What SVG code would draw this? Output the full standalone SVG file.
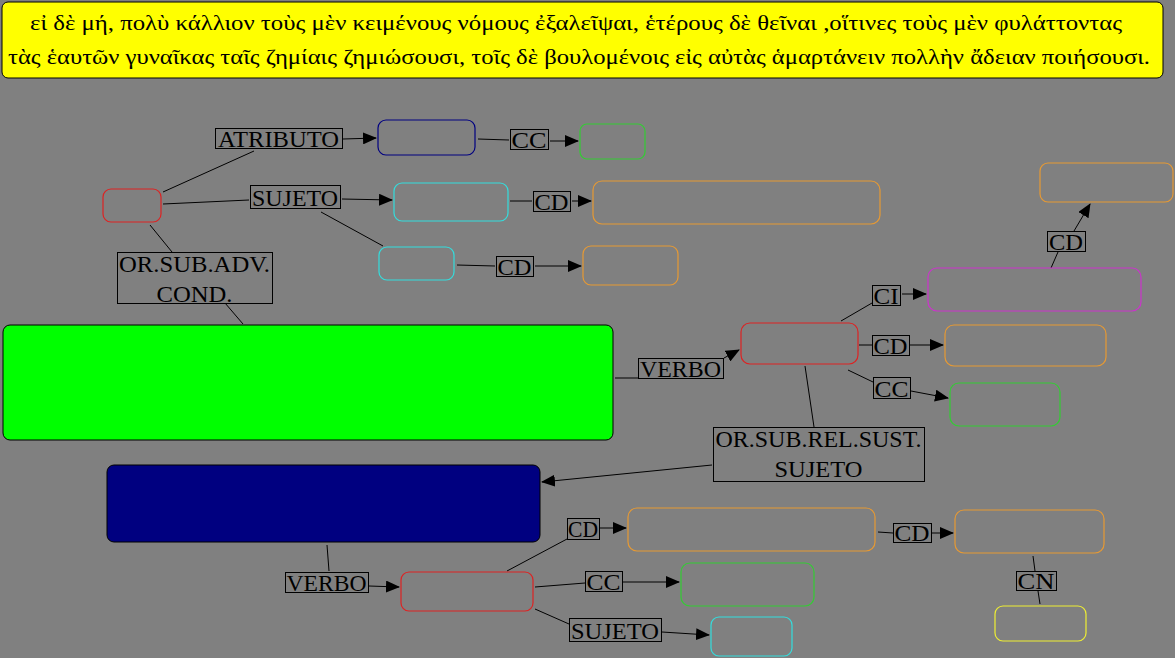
<svg xmlns="http://www.w3.org/2000/svg" width="1175" height="658" viewBox="0 0 1175 658">
<style>
.n{fill:none;stroke-width:1.2}
.lb{fill:none;stroke:#000;stroke-width:1;shape-rendering:crispEdges}
.t{font-family:"Liberation Serif","DejaVu Serif",serif;font-size:23px;fill:#000;text-anchor:middle}
.g{font-family:"Liberation Serif","DejaVu Serif",serif;font-size:22px;fill:#000;text-anchor:middle}
.c{stroke:#000;stroke-width:1;fill:none}
</style>
<defs>
<marker id="ah" markerUnits="userSpaceOnUse" markerWidth="14" markerHeight="12" refX="13" refY="6" orient="auto">
<path d="M0,0 L14,6 L0,12 Z" fill="#000"/>
</marker>
</defs>
<rect x="0" y="0" width="1175" height="658" fill="#808080"/>
<g id="title">
<rect x="2" y="2" width="1161" height="76" rx="6" fill="#ffff00" stroke="#000" stroke-width="1"/>
<text class="g" x="576" y="30" textLength="1092" lengthAdjust="spacingAndGlyphs">εἰ δὲ μή, πολὺ κάλλιον  τοὺς μὲν κειμένους νόμους ἐξαλεῖψαι, ἑτέρους δὲ θεῖναι ,οἵτινες τοὺς μὲν φυλάττοντας</text>
<text class="g" x="579" y="64" textLength="1142" lengthAdjust="spacingAndGlyphs">τὰς ἑαυτῶν γυναῖκας ταῖς ζημίαις ζημιώσουσι, τοῖς δὲ βουλομένοις εἰς αὐτὰς ἁμαρτάνειν πολλὴν ἄδειαν ποιήσουσι.</text>
</g>
<g id="connectors">
<line class="c" x1="163" y1="192" x2="254" y2="151"/>
<line class="c" x1="343" y1="139" x2="376" y2="138" marker-end="url(#ah)"/>
<line class="c" x1="163" y1="204" x2="249" y2="200"/>
<line class="c" x1="342" y1="199" x2="392" y2="200" marker-end="url(#ah)"/>
<line class="c" x1="321" y1="212" x2="383" y2="246"/>
<line class="c" x1="150" y1="225" x2="172" y2="252"/>
<line class="c" x1="225" y1="303" x2="243" y2="324"/>
<line class="c" x1="478" y1="139" x2="509" y2="140"/>
<line class="c" x1="550" y1="141" x2="578" y2="141" marker-end="url(#ah)"/>
<line class="c" x1="510" y1="201" x2="532" y2="201"/>
<line class="c" x1="572" y1="201" x2="591" y2="201" marker-end="url(#ah)"/>
<line class="c" x1="457" y1="265" x2="495" y2="266"/>
<line class="c" x1="535" y1="266" x2="581" y2="266" marker-end="url(#ah)"/>
<line class="c" x1="615" y1="378" x2="638" y2="378"/>
<line class="c" x1="724" y1="358" x2="739" y2="350" marker-end="url(#ah)"/>
<line class="c" x1="841" y1="321" x2="872" y2="303"/>
<line class="c" x1="902" y1="294" x2="926" y2="294" marker-end="url(#ah)"/>
<line class="c" x1="859" y1="345" x2="872" y2="345"/>
<line class="c" x1="910" y1="345" x2="943" y2="345" marker-end="url(#ah)"/>
<line class="c" x1="848" y1="370" x2="873" y2="382"/>
<line class="c" x1="911" y1="391" x2="948" y2="398" marker-end="url(#ah)"/>
<line class="c" x1="805" y1="366" x2="814" y2="427"/>
<line class="c" x1="712" y1="465" x2="542" y2="482" marker-end="url(#ah)"/>
<line class="c" x1="1051" y1="268" x2="1058" y2="252"/>
<line class="c" x1="1074" y1="231" x2="1090" y2="204" marker-end="url(#ah)"/>
<line class="c" x1="327" y1="545" x2="329" y2="571"/>
<line class="c" x1="369" y1="586" x2="399" y2="587" marker-end="url(#ah)"/>
<line class="c" x1="507" y1="571" x2="567" y2="539"/>
<line class="c" x1="600" y1="528" x2="626" y2="528" marker-end="url(#ah)"/>
<line class="c" x1="878" y1="532" x2="893" y2="533"/>
<line class="c" x1="932" y1="533" x2="953" y2="533" marker-end="url(#ah)"/>
<line class="c" x1="1033" y1="556" x2="1035" y2="571"/>
<line class="c" x1="1038" y1="591" x2="1040" y2="604"/>
<line class="c" x1="535" y1="587" x2="585" y2="583"/>
<line class="c" x1="622" y1="582" x2="679" y2="582" marker-end="url(#ah)"/>
<line class="c" x1="535" y1="609" x2="569" y2="624"/>
<line class="c" x1="662" y1="632" x2="709" y2="635" marker-end="url(#ah)"/>
</g>
<g id="node-red1"><rect class="n" x="103" y="189" width="58" height="33" rx="8" stroke="#dd2222"/></g>
<g id="node-navy1"><rect class="n" x="378" y="120" width="97" height="35" rx="8" stroke="#000080"/></g>
<g id="node-green1"><rect class="n" x="580" y="124" width="65" height="35" rx="7" stroke="#33cc33"/></g>
<g id="node-cyan1"><rect class="n" x="394" y="183" width="114" height="38" rx="8" stroke="#33dddd"/></g>
<g id="node-orange1"><rect class="n" x="593" y="181" width="287" height="43" rx="9" stroke="#e69933"/></g>
<g id="node-cyan2"><rect class="n" x="379" y="247" width="75" height="33" rx="8" stroke="#33dddd"/></g>
<g id="node-orange2"><rect class="n" x="583" y="246" width="95" height="39" rx="8" stroke="#e69933"/></g>
<g id="node-orange-tr"><rect class="n" x="1040" y="163" width="133" height="39" rx="8" stroke="#e69933"/></g>
<g id="node-magenta"><rect class="n" x="928" y="268" width="213" height="43" rx="9" stroke="#cc33cc"/></g>
<g id="node-red2"><rect class="n" x="741" y="323" width="117" height="41" rx="9" stroke="#dd2222"/></g>
<g id="node-orange3"><rect class="n" x="945" y="325" width="161" height="41" rx="9" stroke="#e69933"/></g>
<g id="node-green2"><rect class="n" x="950" y="383" width="110" height="43" rx="9" stroke="#33cc33"/></g>
<g id="node-greenbig"><rect x="3" y="325" width="610" height="115" rx="7" fill="#00ff00" stroke="#000" stroke-width="1"/></g>
<g id="node-navybig"><rect x="107" y="465" width="433" height="77" rx="7" fill="#000080" stroke="#000" stroke-width="1"/></g>
<g id="node-orange4"><rect class="n" x="628" y="508" width="247" height="43" rx="9" stroke="#e69933"/></g>
<g id="node-orange5"><rect class="n" x="955" y="510" width="149" height="43" rx="9" stroke="#e69933"/></g>
<g id="node-red3"><rect class="n" x="401" y="572" width="132" height="39" rx="8" stroke="#dd2222"/></g>
<g id="node-green3"><rect class="n" x="681" y="563" width="133" height="43" rx="9" stroke="#33cc33"/></g>
<g id="node-cyan3"><rect class="n" x="711" y="617" width="81" height="39" rx="8" stroke="#33dddd"/></g>
<g id="node-yellow"><rect class="n" x="995" y="606" width="91" height="35" rx="8" stroke="#eeee33"/></g>
<g id="lbl-atributo"><rect class="lb" x="215" y="128" width="127" height="20"/><text class="t" x="278.5" y="147" textLength="121" lengthAdjust="spacingAndGlyphs">ATRIBUTO</text></g>
<g id="lbl-sujeto1"><rect class="lb" x="250" y="185" width="90" height="23"/><text class="t" x="295" y="206" textLength="86" lengthAdjust="spacingAndGlyphs">SUJETO</text></g>
<g id="lbl-orsubadv"><rect class="lb" x="117" y="252" width="155" height="51"/><text class="t" x="194.5" y="272" textLength="151" lengthAdjust="spacingAndGlyphs">OR.SUB.ADV.</text><text class="t" x="194.5" y="302" textLength="76" lengthAdjust="spacingAndGlyphs">COND.</text></g>
<g id="lbl-cc1"><rect class="lb" x="510" y="129" width="38" height="20"/><text class="t" x="529" y="148" textLength="35" lengthAdjust="spacingAndGlyphs">CC</text></g>
<g id="lbl-cd1"><rect class="lb" x="533" y="191" width="37" height="20"/><text class="t" x="551.5" y="210" textLength="34" lengthAdjust="spacingAndGlyphs">CD</text></g>
<g id="lbl-cd2"><rect class="lb" x="496" y="256" width="37" height="20"/><text class="t" x="514.5" y="275" textLength="34" lengthAdjust="spacingAndGlyphs">CD</text></g>
<g id="lbl-cd3"><rect class="lb" x="1047" y="231" width="38" height="20"/><text class="t" x="1066" y="250" textLength="34" lengthAdjust="spacingAndGlyphs">CD</text></g>
<g id="lbl-ci"><rect class="lb" x="872" y="285" width="28" height="20"/><text class="t" x="886" y="304" textLength="25" lengthAdjust="spacingAndGlyphs">CI</text></g>
<g id="lbl-cd4"><rect class="lb" x="872" y="335" width="37" height="20"/><text class="t" x="890.5" y="354" textLength="34" lengthAdjust="spacingAndGlyphs">CD</text></g>
<g id="lbl-cc2"><rect class="lb" x="873" y="377" width="37" height="21"/><text class="t" x="891.5" y="397" textLength="34" lengthAdjust="spacingAndGlyphs">CC</text></g>
<g id="lbl-verbo1"><rect class="lb" x="638" y="358" width="85" height="20"/><text class="t" x="680.5" y="377" textLength="81" lengthAdjust="spacingAndGlyphs">VERBO</text></g>
<g id="lbl-orsubrel"><rect class="lb" x="713" y="427" width="211" height="54"/><text class="t" x="818.5" y="447" textLength="206" lengthAdjust="spacingAndGlyphs">OR.SUB.REL.SUST.</text><text class="t" x="818.5" y="477" textLength="88" lengthAdjust="spacingAndGlyphs">SUJETO</text></g>
<g id="lbl-cd5"><rect class="lb" x="567" y="518" width="32" height="21"/><text class="t" x="583" y="537" textLength="30" lengthAdjust="spacingAndGlyphs">CD</text></g>
<g id="lbl-cd6"><rect class="lb" x="893" y="523" width="38" height="19"/><text class="t" x="912" y="541" textLength="35" lengthAdjust="spacingAndGlyphs">CD</text></g>
<g id="lbl-cc3"><rect class="lb" x="585" y="571" width="37" height="20"/><text class="t" x="603.5" y="590" textLength="34" lengthAdjust="spacingAndGlyphs">CC</text></g>
<g id="lbl-sujeto2"><rect class="lb" x="569" y="618" width="92" height="23"/><text class="t" x="615" y="639" textLength="88" lengthAdjust="spacingAndGlyphs">SUJETO</text></g>
<g id="lbl-verbo2"><rect class="lb" x="285" y="572" width="83" height="20"/><text class="t" x="326.5" y="591" textLength="80" lengthAdjust="spacingAndGlyphs">VERBO</text></g>
<g id="lbl-cn"><rect class="lb" x="1016" y="571" width="40" height="19"/><text class="t" x="1036" y="589" textLength="37" lengthAdjust="spacingAndGlyphs">CN</text></g>
</svg>
